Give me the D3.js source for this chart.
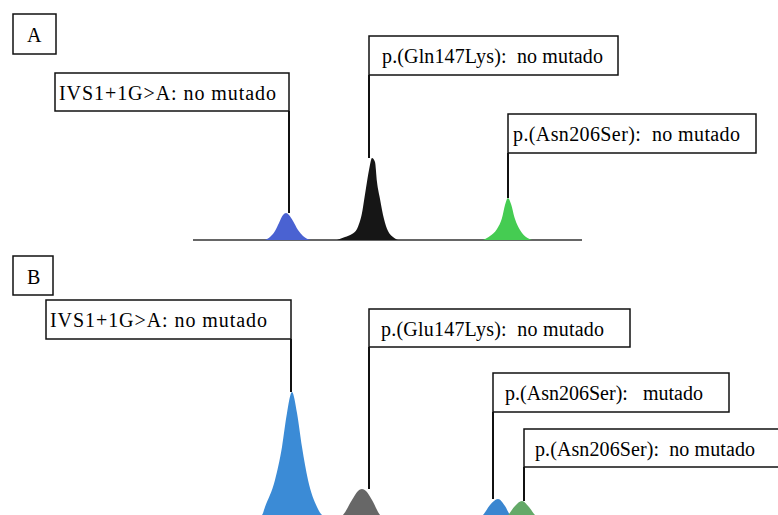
<!DOCTYPE html>
<html>
<head>
<meta charset="utf-8">
<script src="https://cdn.jsdelivr.net/npm/d3@7"></script>
<style>
  body { margin: 0; background: #fff; }
  svg { display: block; }
</style>
</head>
<body>
<svg width="778" height="515"></svg>
<script>
// peak profiles: [size, intensity]
const peakA_IVS = [[72,0],[77,3],[82,9],[86,17],[90,25],[93,27],[96,25],[100,19],[105,10],[110,4],[118,0]];
const peakA_Gln = [[144,0],[152,3],[159,6],[164,11],[169,27],[173,52],[176,70],[179,82],[182,78],[184,58],[187,41],[191,21],[195,9],[200,3],[205,0]];
const peakA_Asn = [[290,0],[297,4],[304,11],[309,22],[312,35],[315,42],[318,36],[322,21],[327,10],[333,3],[339,0]];

const peakB_IVS = [[57,0],[69,5],[72,13],[82,40],[89,73],[94,107],[99,128],[104,107],[109,73],[115,40],[124,13],[129,5],[141,0]];
const peakB_Glu = [[142,0],[150,5],[159,20],[165,29],[169,31],[173,29],[179,20],[187,5],[195,0]];
const peakB_AsnMut = [[282,0],[290,5],[297,15],[305,21],[312,14],[317,5],[325,0]];
const peakB_AsnWt = [[307,0],[315,5],[322,14],[329,19],[336,13],[342,5],[350,0]];

const panelNames = ["A", "B"];
const labelsA = ["IVS1+1G>A: no mutado", "p.(Gln147Lys):  no mutado", "p.(Asn206Ser):  no mutado"];
const labelsB = ["IVS1+1G>A: no mutado", "p.(Glu147Lys):  no mutado", "p.(Asn206Ser):   mutado", "p.(Asn206Ser):  no mutado"];

const svg = d3.select("svg");
const font = '"Liberation Serif", "Times New Roman", "DejaVu Serif", serif';

const x = d3.scaleLinear().domain([0, 389]).range([193, 582]);
const yA = d3.scaleLinear().domain([0, 100]).range([240, 140]);
const yB = d3.scaleLinear().domain([0, 130]).range([520, 390]);

function drawPeak(data, y, color) {
  const area = d3.area()
    .x(d => x(d[0]))
    .y0(y(0))
    .y1(d => y(d[1]))
    .curve(d3.curveMonotoneX);
  svg.append("path").datum(data).attr("d", area).attr("fill", color);
}

// Panel A
svg.append("line")
  .attr("x1", x(0)).attr("x2", x(389))
  .attr("y1", yA(0)).attr("y2", yA(0))
  .attr("stroke", "#333").attr("stroke-width", 1.5);

drawPeak(peakA_IVS, yA, "#4a62d2");
drawPeak(peakA_Gln, yA, "#161616");
drawPeak(peakA_Asn, yA, "#45cc52");

// Panel B
drawPeak(peakB_IVS, yB, "#3b8bd6");
drawPeak(peakB_Glu, yB, "#676767");
drawPeak(peakB_AsnMut, yB, "#3a86d0");
drawPeak(peakB_AsnWt, yB, "#64a968");

// panel letters
const letterBoxes = [
  { x: 13, y: 14, w: 43, h: 40 },
  { x: 13, y: 256, w: 40, h: 39 }
];
letterBoxes.forEach((b, i) => {
  svg.append("rect")
    .attr("x", b.x).attr("y", b.y).attr("width", b.w).attr("height", b.h)
    .attr("fill", "#fff").attr("stroke", "#111").attr("stroke-width", 1.5);
  svg.append("text")
    .attr("x", b.x + 14).attr("y", b.y + 28)
    .attr("font-family", font)
    .style("font-size", "20px")
    .text(panelNames[i]);
});

// callout boxes: edge = side where leader line leaves the box
function callout(text, b, peak, y) {
  const top = d3.max(peak, d => d[1]);
  const lx = b.edge === "right" ? b.x + b.w : b.x;
  svg.append("line")
    .attr("x1", lx).attr("x2", lx)
    .attr("y1", b.y + b.h).attr("y2", y(top))
    .attr("stroke", "#111").attr("stroke-width", 2);
  svg.append("rect")
    .attr("x", b.x).attr("y", b.y).attr("width", b.w).attr("height", b.h)
    .attr("fill", "#fff").attr("stroke", "#111").attr("stroke-width", 1.5);
  svg.append("text")
    .attr("x", b.x + b.pad).attr("y", b.y + 27)
    .attr("font-family", font)
    .attr("textLength", b.tw)
    .attr("lengthAdjust", "spacing")
    .style("font-size", "20px")
    .style("white-space", "pre")
    .text(text);
}

const boxesA = [
  { x: 55, y: 73, w: 234, h: 38, pad: 4, tw: 217, edge: "right" },
  { x: 369, y: 36, w: 249, h: 39, pad: 13, tw: 221, edge: "left" },
  { x: 508, y: 114, w: 248, h: 39, pad: 5, tw: 227, edge: "left" }
];
const peaksA = [peakA_IVS, peakA_Gln, peakA_Asn];
labelsA.forEach((t, i) => callout(t, boxesA[i], peaksA[i], yA));

const boxesB = [
  { x: 46, y: 300, w: 245, h: 39, pad: 4, tw: 217, edge: "right" },
  { x: 369, y: 309, w: 261, h: 38, pad: 12, tw: 223, edge: "left" },
  { x: 493, y: 373, w: 236, h: 39, pad: 12, tw: 198, edge: "left" },
  { x: 524, y: 429, w: 258, h: 38, pad: 11, tw: 220, edge: "left" }
];
const peaksB = [peakB_IVS, peakB_Glu, peakB_AsnMut, peakB_AsnWt];
labelsB.forEach((t, i) => callout(t, boxesB[i], peaksB[i], yB));
</script>
</body>
</html>
